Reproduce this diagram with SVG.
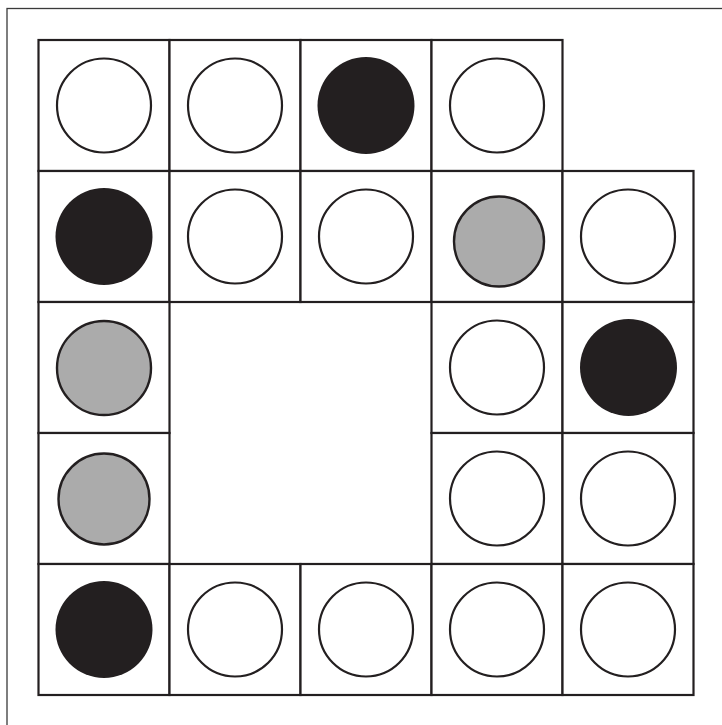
<svg xmlns="http://www.w3.org/2000/svg" width="722" height="725" viewBox="0 0 722 725">
<style>
.frame{fill:none;stroke:#3a3a3a;stroke-width:1.3}
.cell{fill:#ffffff;stroke:#231f20;stroke-width:2.2}
.w{fill:#ffffff;stroke:#231f20;stroke-width:2.2}
.b{fill:#231f20;stroke:none}
.g{fill:#ababab;stroke:#231f20;stroke-width:2.4}
</style>
<rect x="0" y="0" width="722" height="725" fill="#ffffff"/>
<rect class="frame" x="7" y="8.5" width="730" height="730"/>
<g id="connectors"></g>
<g id="r1c1"><rect class="cell" x="38.5" y="40" width="131" height="131"/><circle class="w" cx="104" cy="105.5" r="47"/></g>
<g id="r1c2"><rect class="cell" x="169.5" y="40" width="131" height="131"/><circle class="w" cx="235" cy="105.5" r="47"/></g>
<g id="r1c3"><rect class="cell" x="300.5" y="40" width="131" height="131"/><circle class="b" cx="366" cy="105.5" r="48.5"/></g>
<g id="r1c4"><rect class="cell" x="431.5" y="40" width="131" height="131"/><circle class="w" cx="497" cy="105.5" r="47"/></g>
<g id="r2c1"><rect class="cell" x="38.5" y="171" width="131" height="131"/><circle class="b" cx="104" cy="236.5" r="48.5"/></g>
<g id="r2c2"><rect class="cell" x="169.5" y="171" width="131" height="131"/><circle class="w" cx="235" cy="236.5" r="47"/></g>
<g id="r2c3"><rect class="cell" x="300.5" y="171" width="131" height="131"/><circle class="w" cx="366" cy="236.5" r="47"/></g>
<g id="r2c4"><rect class="cell" x="431.5" y="171" width="131" height="131"/><circle class="g" cx="499" cy="241.5" r="45"/></g>
<g id="r2c5"><rect class="cell" x="562.5" y="171" width="131" height="131"/><circle class="w" cx="628" cy="236.5" r="47"/></g>
<g id="r3c1"><rect class="cell" x="38.5" y="302" width="131" height="131"/><circle class="g" cx="104" cy="368" r="47"/></g>
<g id="r3c4"><rect class="cell" x="431.5" y="302" width="131" height="131"/><circle class="w" cx="497" cy="367.5" r="47"/></g>
<g id="r3c5"><rect class="cell" x="562.5" y="302" width="131" height="131"/><circle class="b" cx="628.5" cy="367.5" r="48.5"/></g>
<g id="r4c1"><rect class="cell" x="38.5" y="433" width="131" height="131"/><circle class="g" cx="104" cy="499" r="45.5"/></g>
<g id="r4c4"><rect class="cell" x="431.5" y="433" width="131" height="131"/><circle class="w" cx="497" cy="498.5" r="47"/></g>
<g id="r4c5"><rect class="cell" x="562.5" y="433" width="131" height="131"/><circle class="w" cx="628" cy="498.5" r="47"/></g>
<g id="r5c1"><rect class="cell" x="38.5" y="564" width="131" height="131"/><circle class="b" cx="104" cy="629.5" r="48.5"/></g>
<g id="r5c2"><rect class="cell" x="169.5" y="564" width="131" height="131"/><circle class="w" cx="235" cy="629.5" r="47"/></g>
<g id="r5c3"><rect class="cell" x="300.5" y="564" width="131" height="131"/><circle class="w" cx="366" cy="629.5" r="47"/></g>
<g id="r5c4"><rect class="cell" x="431.5" y="564" width="131" height="131"/><circle class="w" cx="497" cy="629.5" r="47"/></g>
<g id="r5c5"><rect class="cell" x="562.5" y="564" width="131" height="131"/><circle class="w" cx="628" cy="629.5" r="47"/></g>
</svg>
